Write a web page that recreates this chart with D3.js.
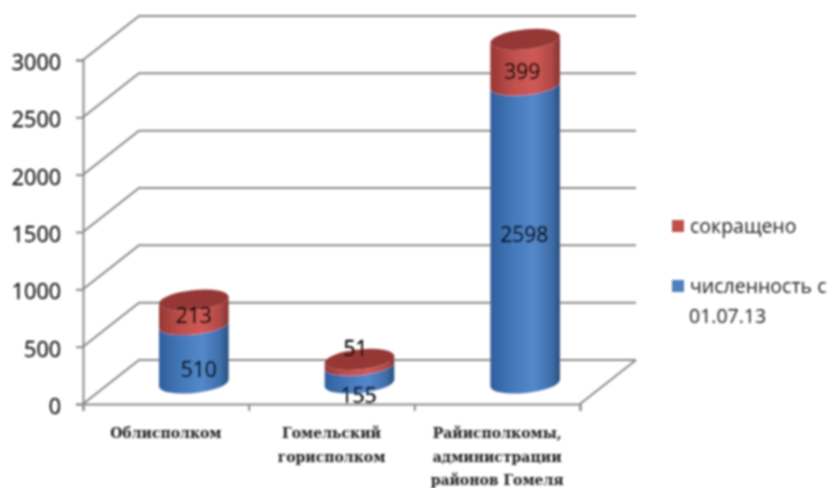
<!DOCTYPE html>
<html>
<head>
<meta charset="utf-8">
<script src="https://cdn.jsdelivr.net/npm/d3@7"></script>
<style>
html, body {margin: 0; padding: 0; background: #fff;}
svg {display: block;}
</style>
</head>
<body>
<script>
//Chart values
const categories = [['Облисполком'], ['Гомельский', 'горисполком'], ['Райисполкомы,', 'администрации', 'районов Гомеля']];
const headcount = [510, 155, 2598];
const reduced = [213, 51, 399];
const yTicks = [0, 500, 1000, 1500, 2000, 2500, 3000];
const legendNames = [['сокращено'], ['численность с', '01.07.13']];

//Setting the dimensions and creating the svg
const width = 830;
const height = 488;
const depth = {x: 56, y: -44};
const svg = d3.select('body').append('svg').attr('width', width).attr('height', height);
const defs = svg.append('defs');

//The source picture is a soft, upscaled image
defs.append('filter').attr('id', 'soft').attr('filterUnits', 'userSpaceOnUse')
    .attr('x', 0).attr('y', 0).attr('width', width).attr('height', height)
    .append('feGaussianBlur').attr('stdDeviation', 0.85);

function sideGradient(id, stops) {
    const g = defs.append('linearGradient').attr('id', id);
    stops.forEach(s => g.append('stop').attr('offset', s[0]).attr('stop-color', s[1]));
}
sideGradient('blueSide', [[0, '#2f5f9c'], [0.3, '#4377b8'], [0.62, '#5488ca'], [0.88, '#3f6ea9'], [1, '#27507f']]);
sideGradient('redSide', [[0, '#963633'], [0.3, '#bd4f4b'], [0.62, '#d05a56'], [0.88, '#b04845'], [1, '#823230']]);

const grp = svg.append('g').attr('filter', 'url(#soft)');

//Scales
const x = d3.scaleBand().domain(d3.range(categories.length)).range([83, 580]);
const y = d3.scaleLinear().domain([0, 3000]).range([404, 60]);
const lineColor = '#8a8a8a';

//Gridlines on the side and back walls
const grid = grp.append('g').attr('fill', 'none').attr('stroke', lineColor).attr('stroke-width', 2);
grid.selectAll('path').data(yTicks).join('path')
    .attr('d', d => 'M' + x.range()[0] + ',' + y(d) + 'L' + (x.range()[0] + depth.x) + ',' + (y(d) + depth.y) + 'H' + (x.range()[1] + depth.x));
grid.append('path')
    .attr('d', 'M' + x.range()[1] + ',' + y(0) + 'L' + (x.range()[1] + depth.x) + ',' + (y(0) + depth.y));

//Axes
const yAxis = d3.axisLeft(y).tickValues(yTicks).tickSize(7).tickPadding(15).tickFormat(d3.format('d'));
const xAxis = d3.axisBottom(d3.scaleLinear().domain([0, categories.length]).range(x.range()))
    .tickValues(d3.range(categories.length + 1)).tickSize(7).tickFormat('');
const yG = grp.append('g').attr('transform', 'translate(' + x.range()[0] + ',0)').call(yAxis);
const xG = grp.append('g').attr('transform', 'translate(0,' + y(0) + ')').call(xAxis);
[yG, xG].forEach(a => {
    a.selectAll('path, line').attr('stroke', lineColor).attr('stroke-width', 2);
});
yG.selectAll('text').attr('font-family', 'Open Sans').attr('font-size', 21.5).attr('dy', '0.44em').attr('stroke', '#111').attr('stroke-width', 0.3).attr('fill', '#111');

//Category labels
const lineY = [433, 457, 480];
const labels = grp.append('g').attr('text-anchor', 'middle').attr('font-family', 'DejaVu Serif').attr('font-weight', 'bold').attr('font-size', 14).attr('fill', '#1a1a1a');
categories.forEach((lines, i) => {
    labels.selectAll(null).data(lines).join('text')
        .attr('x', x(i) + x.bandwidth() / 2)
        .attr('y', (d, j) => lineY[j] + 5)
        .text(d => d);
});

//Cylinders
const rx = 35;
const ry = 10;
const tilt = -6;
const cx = i => x(i) + x.bandwidth() / 2 + depth.x / 2;
const cy = v => y(v) + depth.y / 2 + 1;
const edge = rx * Math.cos(tilt * Math.PI / 180);
const lift = rx * Math.sin(tilt * Math.PI / 180);

function side(c, top, bottom) {
    return 'M' + (c - edge) + ',' + (top - lift)
        + 'A' + rx + ',' + ry + ' ' + tilt + ' 0 0 ' + (c + edge) + ',' + (top + lift)
        + 'V' + (bottom + lift)
        + 'A' + rx + ',' + ry + ' ' + tilt + ' 0 1 ' + (c - edge) + ',' + (bottom - lift) + 'Z';
}

const bars = grp.selectAll('g.bar').data(d3.range(categories.length)).join('g').attr('class', 'bar');
bars.append('path').attr('fill', 'url(#blueSide)').attr('d', i => side(cx(i), cy(headcount[i]), cy(0)));
bars.append('path').attr('fill', 'url(#redSide)').attr('d', i => side(cx(i), cy(headcount[i] + reduced[i]), cy(headcount[i])));
bars.append('ellipse')
    .attr('fill', '#953735')
    .attr('rx', rx)
    .attr('ry', ry)
    .attr('transform', i => 'translate(' + cx(i) + ',' + cy(headcount[i] + reduced[i]) + ') rotate(' + tilt + ')');

//Data labels, moved by hand as in the original
const redShift = [[0, 3], [-4, -14], [-3, 9]];
const blueShift = [[5, 16], [-1, 21], [-1, 0]];
const valueLabels = grp.append('g').attr('text-anchor', 'middle').attr('font-family', 'Open Sans').attr('font-size', 21).attr('stroke', '#000').attr('stroke-width', 0.4).attr('fill', '#000');
valueLabels.selectAll('text.red').data(reduced).join('text').attr('class', 'red')
    .attr('x', (d, i) => cx(i) + redShift[i][0])
    .attr('y', (d, i) => cy(headcount[i] + d / 2) + redShift[i][1])
    .attr('dy', '0.36em')
    .text(d => d);
valueLabels.selectAll('text.blue').data(headcount).join('text').attr('class', 'blue')
    .attr('x', (d, i) => cx(i) + blueShift[i][0])
    .attr('y', (d, i) => cy(d / 2) + blueShift[i][1])
    .attr('dy', '0.36em')
    .text(d => d);

//Legend
const legendColors = ['#c0504d', '#4f81bd'];
const legendY = [226, 286];
const legend = grp.selectAll('g.legend').data(legendNames).join('g').attr('class', 'legend')
    .attr('transform', (d, i) => 'translate(672,' + legendY[i] + ')');
legend.append('rect').attr('y', -6).attr('width', 12).attr('height', 12).attr('fill', (d, i) => legendColors[i]);
legend.selectAll('text').data(d => d).join('text')
    .attr('x', (d, j) => j === 0 ? 18 : 17)
    .attr('y', (d, j) => j * 30)
    .attr('dy', '0.36em')
    .attr('font-family', 'Open Sans')
    .attr('font-size', 19.5)
    .attr('fill', '#1f1f1f')
    .text(d => d);
</script>
</body>
</html>
